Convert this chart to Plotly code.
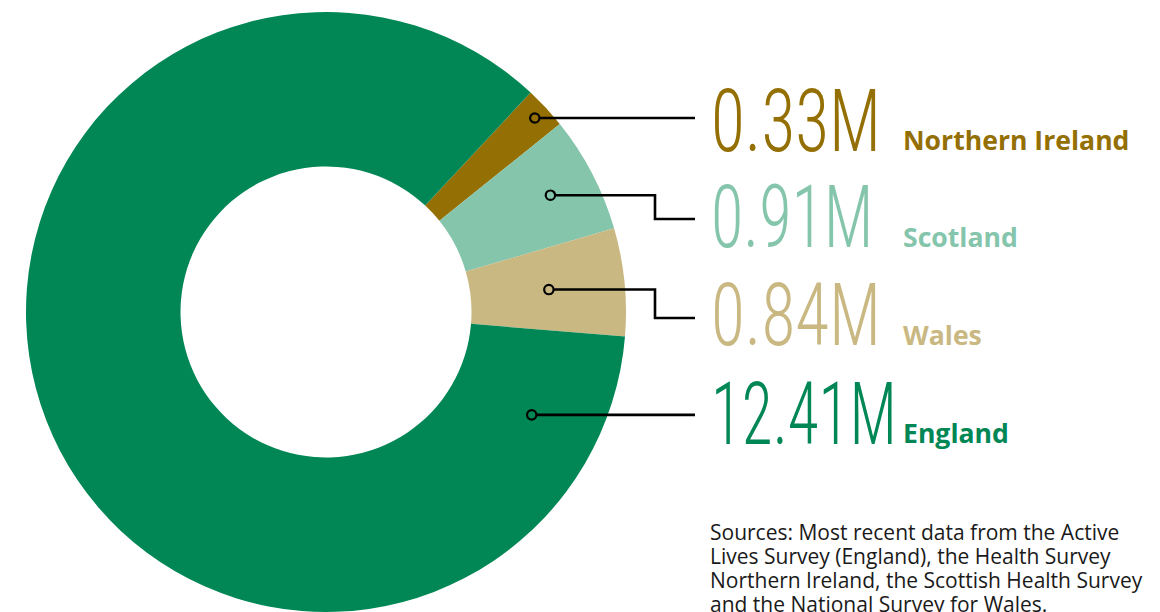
import math
import plotly.graph_objects as go

# ---- data ----
regions = ["Northern Ireland", "Scotland", "Wales", "England"]
values = [0.33, 0.91, 0.84, 12.41]
value_labels = ["0.33M", "0.91M", "0.84M", "12.41M"]
colors = ["#946F04", "#84C5AC", "#CAB882", "#008755"]
source_lines = ["Sources: Most recent data from the Active",
                "Lives Survey (England), the Health Survey",
                "Northern Ireland, the Scottish Health Survey",
                "and the National Survey for Wales."]

# ---- layout / style ----
W, H = 1160, 612
cx, cy, R = 326.0, 312.0, 300.0
hole = 0.485
rotation = 43
dot_frac = [0.5, 0.5, 0.5, 0.071]      # where along each slice the leader dot sits
dot_rad = [285, 253, 224, 230]          # radial distance of the leader dot (px)
elbow_x, end_x = 655, 695
label_y = [118, 219, 318, 416]          # y of leader line end
num_baseline = [152, 248, 346, 445]
name_baseline = [151.5, 248.5, 346.5, 444.5]
num_scale = [0.79, 0.755, 0.79, 0.72]   # horizontal squeeze of the big figures
num_x, name_x = 709, 901
src_x, src_baseline0, src_step = 708, 539, 24

fig = go.Figure()
fig.add_trace(go.Pie(
    labels=regions, values=values, sort=False, direction="clockwise",
    rotation=rotation, hole=hole, textinfo="none", hoverinfo="label+value",
    marker=dict(colors=colors, line=dict(width=0)), showlegend=False,
    domain=dict(x=[(cx - R) / W, (cx + R) / W], y=[(H - cy - R) / H, (H - cy + R) / H]),
))

shapes = []
total = sum(values)
cum = 0.0
for i, v in enumerate(values):
    ang = math.radians(rotation + 360.0 * (cum + v * dot_frac[i]) / total)
    cum += v
    dx = cx + dot_rad[i] * math.sin(ang)
    dy = cy - dot_rad[i] * math.cos(ang)
    if abs(dy - label_y[i]) > 3:
        path = f"M {dx},{dy} L {elbow_x},{dy} L {elbow_x},{label_y[i]} L {end_x},{label_y[i]}"
    else:
        path = f"M {dx},{dy} L {end_x},{dy}"
    shapes.append(dict(type="path", path=path, xref="x", yref="y", layer="above",
                       line=dict(color="black", width=2.6)))
    r = 4.7
    shapes.append(dict(type="circle", xref="x", yref="y", layer="above",
                       x0=dx - r, x1=dx + r, y0=dy - r, y1=dy + r,
                       fillcolor=colors[i], line=dict(color="black", width=2.2)))

NUM_SIZE = 88
NAME_SIZE = 26.6
for i in range(len(values)):
    fig.add_annotation(x=num_x, y=num_baseline[i] + 0.244 * NUM_SIZE + 1, xref="x", yref="y",
                       text=value_labels[i], showarrow=False, xanchor="left", yanchor="bottom",
                       font=dict(family="Roboto Condensed, Liberation Sans Narrow, sans-serif",
                                 size=NUM_SIZE, color=colors[i], weight=300))
    fig.add_annotation(x=name_x, y=name_baseline[i] + 0.293 * NAME_SIZE + 1, xref="x", yref="y",
                       text="<b>" + regions[i] + "</b>", showarrow=False, xanchor="left", yanchor="bottom",
                       font=dict(family="Open Sans", size=NAME_SIZE, color=colors[i]))

SRC_SIZE = 21
for j, line in enumerate(source_lines):
    fig.add_annotation(x=src_x, y=src_baseline0 + j * src_step - 1.069 * SRC_SIZE - 1, xref="x", yref="y",
                       text=line, showarrow=False, xanchor="left", yanchor="top",
                       font=dict(family="Open Sans", size=SRC_SIZE, color="#1a1a1a"))

fig.update_layout(
    width=W, height=H, margin=dict(l=0, r=0, t=0, b=0),
    paper_bgcolor="white", plot_bgcolor="rgba(0,0,0,0)",
    xaxis=dict(range=[0, W], visible=False, fixedrange=True),
    yaxis=dict(range=[H, 0], visible=False, fixedrange=True),
    shapes=shapes,
)

# narrow the large figures horizontally (the original uses a very condensed face)
scales = "{" + ", ".join(f'"{t}": {s}' for t, s in zip(value_labels, num_scale)) + "}"
post_js = """
var gd = document.getElementById('{plot_id}');
var SCALES = %s;
function squeeze() {
  gd.querySelectorAll('text.annotation-text').forEach(function (t) {
    var s = SCALES[t.textContent];
    if (s !== undefined) {
      t.style.transformBox = 'fill-box';
      t.style.transformOrigin = '0%% 50%%';
      t.style.transform = 'scaleX(' + s + ')';
    }
  });
}
squeeze();
gd.on('plotly_afterplot', squeeze);
""" % scales
fig.write_html("out.html", post_script=post_js)
